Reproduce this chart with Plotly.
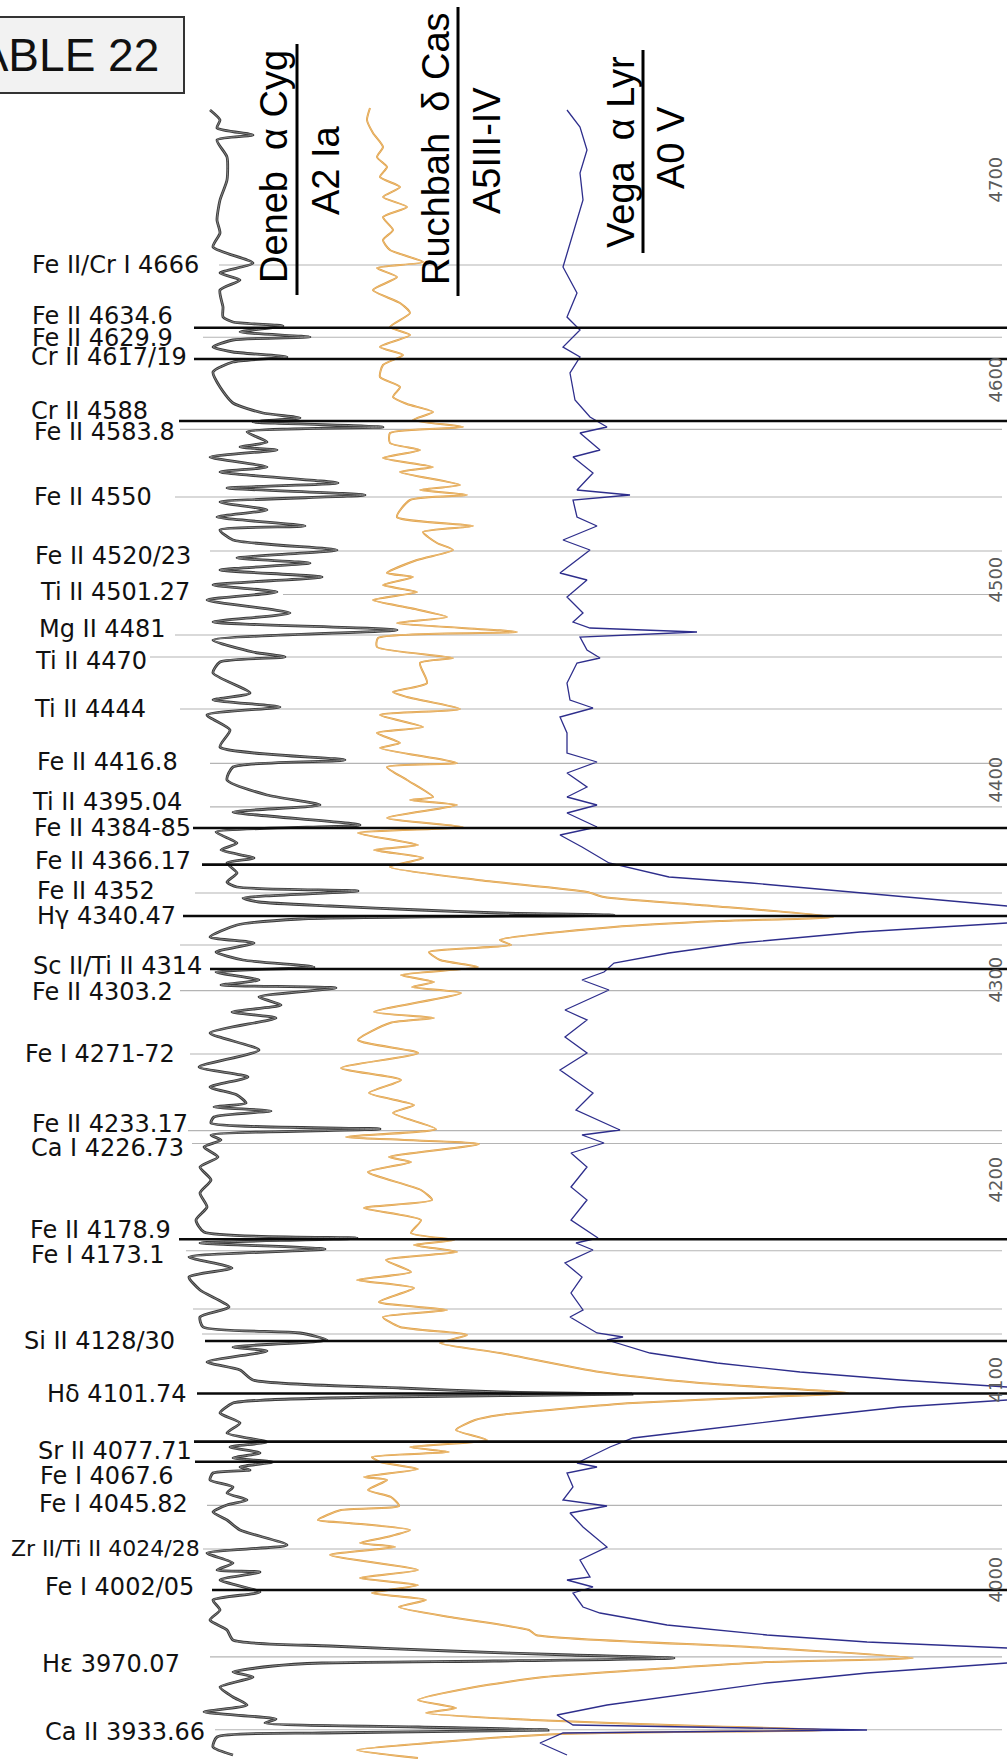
import plotly.graph_objects as go

# ---------------------------------------------------------------------------
# Spectra: (wavelength [Å], plotted intensity) — absorption increases to the right
# ---------------------------------------------------------------------------
deneb = [
    (4743.5, 210), (4738.5, 220), (4734.5, 217), (4731, 253), (4728.5, 217), (4720, 227),
    (4708.5, 227), (4698.5, 220), (4688.5, 217), (4682, 220), (4675, 213), (4667, 253),
    (4662, 220), (4658.5, 240), (4653.5, 220), (4645, 223), (4640, 223), (4637.5, 233),
    (4635.5, 283), (4632.5, 240), (4630, 310), (4628.5, 233), (4625, 213), (4622.5, 233),
    (4620, 287), (4617.5, 233), (4612.5, 213), (4605, 220), (4597, 233), (4592, 263),
    (4589.5, 300), (4587.5, 253), (4585, 383), (4582.5, 247), (4577.5, 267), (4575, 240),
    (4573.5, 277), (4570, 210), (4565, 267), (4562.5, 220), (4557, 338), (4554.5, 227),
    (4551, 365), (4547.5, 220), (4543.5, 267), (4540, 217), (4535.5, 305), (4533.5, 220),
    (4528.5, 233), (4523.5, 337), (4519.5, 237), (4517, 310), (4513.5, 220), (4510, 322),
    (4506, 213), (4502.5, 277), (4498.5, 207), (4492, 290), (4487.5, 213), (4483.5, 397),
    (4478.5, 213), (4472.5, 253), (4470, 285), (4467.5, 220), (4462, 213), (4452, 250),
    (4448.5, 213), (4445, 280), (4441, 207), (4433.5, 230), (4425, 220), (4418.5, 345),
    (4415, 233), (4408.5, 227), (4401, 267), (4396, 320), (4392.5, 233), (4386, 360),
    (4382.5, 216), (4377, 237), (4373.5, 221), (4369.5, 254), (4367, 227), (4362, 237),
    (4357.5, 227), (4355, 237), (4353, 358), (4349.5, 243), (4347.5, 259), (4345.5, 330),
    (4343.5, 420), (4342, 500), (4341, 614), (4339, 300), (4336, 237), (4330, 210),
    (4327, 254), (4322.5, 216), (4318.5, 243), (4315, 314), (4312.5, 216), (4308.5, 259),
    (4306, 221), (4304.5, 336), (4300, 259), (4296, 281), (4292.5, 232), (4289.5, 276),
    (4282, 210), (4273.5, 259), (4265, 199), (4260, 248), (4255, 210), (4251, 237),
    (4247, 246), (4245, 214), (4243, 271), (4240, 214), (4237, 211), (4234, 380),
    (4231, 211), (4228.5, 221), (4225, 204), (4220, 218), (4215, 200), (4208.5, 211),
    (4202, 200), (4195, 207), (4188.5, 196), (4182.5, 204), (4179.5, 357), (4177, 200),
    (4174, 325), (4170, 189), (4164.5, 232), (4160, 189), (4153.5, 200), (4145, 229),
    (4140, 200), (4135, 203), (4132, 300), (4128.5, 327), (4125, 233), (4123, 267),
    (4117.5, 207), (4113.5, 240), (4108.5, 253), (4104.5, 400), (4102.5, 500), (4101.5, 632),
    (4100, 380), (4098.5, 265), (4097, 233), (4092, 220), (4087, 240), (4082, 227),
    (4077.5, 267), (4075, 230), (4072, 260), (4069.5, 233), (4067.5, 273), (4065, 240),
    (4063.5, 250), (4062, 213), (4058.5, 210), (4055, 233), (4052, 227), (4048.5, 247),
    (4046, 227), (4042.5, 213), (4038.5, 227), (4033.5, 240), (4026, 287), (4022, 207),
    (4017, 233), (4013.5, 217), (4012.5, 260), (4008.5, 220), (4002.5, 260), (3998.5, 213),
    (3993.5, 220), (3988.5, 210), (3983.5, 227), (3978.5, 233), (3975.5, 330), (3973, 450),
    (3971, 571), (3969.5, 674), (3968, 494), (3967, 322), (3965.5, 273), (3962.5, 233),
    (3960, 253), (3955, 220), (3950, 233), (3946, 247), (3942.5, 204), (3939, 276),
    (3937, 265), (3935, 418), (3933.5, 548), (3932, 322), (3930, 217), (3925, 213),
    (3921, 233),
]

ruchbah = [
    (4744.5, 370), (4738.5, 367), (4732, 373), (4725, 383), (4720, 377), (4715, 387),
    (4710, 380), (4705, 400), (4700, 383), (4695, 407), (4690, 383), (4683.5, 393),
    (4678.5, 383), (4673.5, 390), (4667.5, 423), (4664.5, 377), (4660, 397), (4653.5, 373),
    (4647, 400), (4642, 410), (4635, 390), (4631, 410), (4625, 380), (4621, 403),
    (4616, 383), (4610, 380), (4605, 400), (4600, 393), (4596.5, 407), (4592.5, 433),
    (4588.5, 413), (4585, 463), (4582, 390), (4577, 390), (4573.5, 420), (4569.5, 383),
    (4565, 433), (4562.5, 400), (4556, 460), (4553.5, 420), (4551, 467), (4548.5, 410),
    (4540, 397), (4535.5, 473), (4532.5, 423), (4527, 437), (4523.5, 453), (4518.5, 417),
    (4512, 387), (4510, 413), (4506, 383), (4502.5, 417), (4498.5, 373), (4494.5, 410),
    (4490, 447), (4487, 397), (4482.5, 517), (4479.5, 378), (4475, 377), (4469.5, 453),
    (4467, 420), (4457, 427), (4452.5, 393), (4450, 407), (4444, 460), (4441, 380),
    (4435, 423), (4432, 377), (4427, 400), (4424.5, 380), (4417, 457), (4415, 387),
    (4408.5, 407), (4400, 433), (4398.5, 410), (4396, 457), (4389.5, 387), (4385, 463),
    (4382, 358), (4376, 418), (4373.5, 374), (4369.5, 423), (4365, 390), (4358.5, 478),
    (4352.5, 587), (4350, 604), (4346, 700), (4340, 833), (4338, 720), (4335, 614),
    (4328.5, 500), (4326, 511), (4322.5, 429), (4318.5, 440), (4315, 478), (4311, 401),
    (4307.5, 434), (4305, 412), (4302, 461), (4292.5, 374), (4289.5, 434), (4287, 390),
    (4278.5, 358), (4272, 418), (4264.5, 341), (4258.5, 401), (4252, 369), (4246, 414),
    (4242, 393), (4234, 436), (4230, 346), (4226.5, 479), (4220, 389), (4217.5, 411),
    (4212.5, 368), (4203.5, 421), (4198.5, 432), (4194.5, 364), (4188.5, 421), (4182, 411),
    (4178.5, 454), (4176, 414), (4172.5, 457), (4168.5, 386), (4162.5, 411), (4158.5, 357),
    (4154.5, 414), (4147.5, 379), (4143.5, 447), (4140, 383), (4135, 400), (4131, 467),
    (4127, 440), (4122, 500), (4112.5, 600), (4107, 700), (4102, 848), (4100, 767),
    (4097, 633), (4094.5, 571), (4091, 500), (4088.5, 475), (4083.5, 456), (4078.5, 487),
    (4075, 410), (4072.5, 449), (4070, 372), (4067.5, 380), (4064, 418), (4060, 364),
    (4058.5, 387), (4053.5, 368), (4050, 391), (4045.5, 399), (4043.5, 341), (4038.5, 318),
    (4037, 349), (4033.5, 410), (4030, 387), (4027, 360), (4025, 395), (4021, 330),
    (4013.5, 418), (4009.5, 360), (4006, 418), (4002, 372), (3998.5, 426), (3995, 399),
    (3989.5, 456), (3983.5, 529), (3981, 536), (3975, 750), (3969.5, 913), (3967.5, 767),
    (3963.5, 640), (3960, 544), (3955, 475), (3948.5, 418), (3944.5, 456), (3942, 426),
    (3938.5, 533), (3935.5, 700), (3933.5, 830), (3931.5, 560), (3927.5, 440), (3923.5, 357),
    (3919.5, 418),
]

vega = [
    (4743.5, 567), (4735, 580), (4723.5, 587), (4712, 580), (4698.5, 583), (4682, 573),
    (4665, 563), (4652, 577), (4640, 567), (4633.5, 580), (4625, 563), (4620, 580),
    (4612, 570), (4598.5, 575), (4590, 590), (4585, 607), (4582, 580), (4573.5, 600),
    (4570, 573), (4562, 593), (4553.5, 577), (4551, 630), (4548.5, 573), (4540, 577),
    (4535.5, 597), (4528.5, 563), (4523.5, 590), (4512, 560), (4508.5, 587), (4500, 567),
    (4492, 583), (4487.5, 573), (4484.5, 590), (4482.5, 697), (4480, 580), (4473.5, 587),
    (4469.5, 600), (4467, 577), (4457, 567), (4448.5, 570), (4444.5, 593), (4440, 560),
    (4432, 567), (4422, 567), (4417.5, 597), (4412, 567), (4405, 587), (4400, 567),
    (4396, 597), (4392, 567), (4385, 597), (4381, 560), (4375, 582), (4367, 609),
    (4360, 669), (4357, 751), (4352, 860), (4345.5, 1007), (4341, 1150), (4337, 1007),
    (4332.5, 860), (4327, 740), (4322, 669), (4317, 614), (4312.5, 604), (4308.5, 582),
    (4303.5, 609), (4293.5, 565), (4288.5, 587), (4280, 565), (4272, 587), (4263.5, 560),
    (4252, 593), (4243.5, 576), (4233.5, 620), (4231, 582), (4227, 604), (4222, 571),
    (4215, 587), (4205, 571), (4198.5, 587), (4188.5, 571), (4179.5, 598), (4177, 576),
    (4173.5, 593), (4167, 565), (4160, 582), (4152, 571), (4143.5, 583), (4140, 570),
    (4132, 597), (4130, 623), (4128.5, 607), (4122, 650), (4117, 717), (4112.5, 800),
    (4108.5, 900), (4105, 1007), (4102, 1150), (4098.5, 1007), (4095, 900), (4089.5, 800),
    (4083.5, 700), (4079.5, 633), (4075, 610), (4070, 590), (4067, 577), (4065, 597),
    (4062, 567), (4055, 573), (4048.5, 563), (4045.5, 607), (4042, 570), (4035, 583),
    (4025, 607), (4018.5, 580), (4010, 590), (4008.5, 567), (4005, 593), (4002, 573),
    (3995, 583), (3992, 600), (3986, 667), (3981, 767), (3977.5, 867), (3974.5, 1007),
    (3971, 1150), (3967, 1007), (3962, 867), (3957, 767), (3950, 667), (3946, 607),
    (3941, 557), (3936, 573), (3933.5, 867), (3932, 563), (3927, 540), (3921, 567),
]

# ---------------------------------------------------------------------------
# Line identifications
# ---------------------------------------------------------------------------
line_labels = [
    "Fe II/Cr I 4666", "Fe II 4634.6", "Fe II 4629.9", "Cr II 4617/19", "Cr II 4588",
    "Fe II 4583.8", "Fe II 4550", "Fe II 4520/23", "Ti II 4501.27", "Mg II 4481",
    "Ti II 4470", "Ti II 4444", "Fe II 4416.8", "Ti II 4395.04", "Fe II 4384-85",
    "Fe II 4366.17", "Fe II 4352", "Hγ 4340.47", "", "Sc II/Ti II 4314",
    "Fe II 4303.2", "Fe I 4271-72", "Fe II 4233.17", "Ca I 4226.73", "Fe II 4178.9",
    "Fe I 4173.1", "", "", "Si II 4128/30", "Hδ 4101.74",
    "Sr II 4077.71", "Fe I 4067.6", "Fe I 4045.82", "Zr II/Ti II 4024/28", "Fe I 4002/05",
    "Hε 3970.07", "Ca II 3933.66",
]
line_wavelengths = [
    4666, 4634.6, 4629.9, 4619, 4588,
    4583.8, 4550, 4523, 4501.27, 4481,
    4470, 4444, 4416.8, 4395.04, 4384.5,
    4366.17, 4352, 4340.47, 4326, 4314,
    4303.2, 4271.5, 4233.17, 4226.73, 4178.9,
    4173.1, 4144, 4131.5, 4128, 4101.74,
    4077.71, 4067.6, 4045.82, 4024, 4003.5,
    3970.07, 3933.66,
]

axis_ticks = [4000, 4100, 4200, 4300, 4400, 4500, 4600, 4700]

star_names = ["Deneb  α Cyg", "Ruchbah  δ Cas", "Vega  α Lyr"]
star_types = ["A2 Ia", "A5III-IV", "A0 V"]

# ---------------------------------------------------------------------------
# Layout / style
# ---------------------------------------------------------------------------
W, H = 1007, 1759
WL_TOP, WL_BOTTOM = 4798.5, 3919.0          # wavelength at top / bottom edge
PX_PER_A = H / (WL_TOP - WL_BOTTOM)


def wl_at(py):
    """Wavelength located at a given pixel row."""
    return WL_TOP - py / PX_PER_A


# heavy black rules vs thin grey rules, where each rule starts, label placement
strong_rule = [
    False, True, False, True, True,
    False, False, False, False, False,
    False, False, False, False, True,
    True, False, True, False, True,
    False, False, False, False, True,
    False, False, False, True, True,
    True, True, False, False, True,
    False, False,
]
rule_start = [
    219, 194, 203, 194, 179,
    180, 175, 210, 283, 175,
    150, 180, 210, 210, 193,
    202, 195, 183, 180, 210,
    180, 190, 188, 192, 179,
    186, 193, 202, 205, 197,
    194, 195, 207, 203, 212,
    210, 215,
]
label_left = [
    30, 30, 30, 29, 29,
    32, 32, 33, 38, 37,
    33, 32, 35, 30, 32,
    33, 35, 35, 0, 31,
    30, 23, 30, 29, 28,
    29, 0, 0, 22, 45,
    36, 38, 37, 9, 43,
    40, 43,
]
label_shift = [
    0, 12, -1, 2, 10,
    -3, 0, -5, 2, 6,
    -4, 0, 1, 5, 0,
    4, 2, 0, 0, 3,
    -1, 0, 7, -4, 9,
    -4, 0, 0, 0, 0,
    -9, -14, 1, 1, 3,
    -7, -2,
]
label_size = [24] * len(line_labels)
label_size[line_labels.index("Zr II/Ti II 4024/28")] = 22

LABEL_FONT = "DejaVu Sans"
TITLE_FONT = "Liberation Sans"

fig = go.Figure()

# each spectrum: line shape and list of (colour, width) strokes, drawn in order
series = [
    (deneb, "spline", [("#3a3a3a", 2.8), ("#8c8c8c", 0.9)]),
    (ruchbah, "spline", [("#DE9E45", 2.0), ("#F2C98A", 0.7)]),
    (vega, "linear", [("#2E2E8C", 1.3)]),
]
for data, shape, strokes in series:
    for color, width in strokes:
        line = dict(color=color, width=width, shape=shape)
        if shape == "spline":
            line["smoothing"] = 0.6
        fig.add_trace(go.Scatter(
            x=[p[1] for p in data], y=[p[0] for p in data],
            mode="lines", line=line, hoverinfo="skip", showlegend=False,
        ))

shapes = []
annotations = []
for lab, wl, strong, x0, lx, dy, fs in zip(line_labels, line_wavelengths, strong_rule,
                                           rule_start, label_left, label_shift, label_size):
    shapes.append(dict(
        type="line", xref="x", yref="y", x0=x0, x1=1007 if strong else 1002, y0=wl, y1=wl,
        line=dict(color="#0a0a0a" if strong else "#b4b4b4", width=2.6 if strong else 1.1),
        layer="above" if strong else "below",
    ))
    if lab:
        annotations.append(dict(
            xref="x", yref="y", x=lx, y=wl, yshift=dy, text=lab, showarrow=False,
            xanchor="left", yanchor="middle",
            font=dict(family=LABEL_FONT, size=fs, color="#111111"),
        ))

# wavelength scale on the right edge
for t in axis_ticks:
    annotations.append(dict(
        xref="x", yref="y", x=994.5, y=t, yshift=17, text=str(t), showarrow=False,
        textangle=-90, xanchor="center", yanchor="middle",
        font=dict(family=LABEL_FONT, size=18, color="#5a5a5a"),
    ))

# star headings: name (underlined) and spectral type, written upward
heading_name_pos = [(274, 167), (436, 149), (621, 152)]
heading_type_pos = [(326, 170), (487, 151), (671, 148)]
underline = [(297, 44, 295), (458, 7, 296), (643, 50, 253)]
for name, sptype, (nx, ny), (tx, ty), (ux, uy0, uy1) in zip(
        star_names, star_types, heading_name_pos, heading_type_pos, underline):
    annotations.append(dict(
        xref="x", yref="y", x=nx, y=wl_at(ny), text=name, showarrow=False,
        textangle=-90, xanchor="center", yanchor="middle",
        font=dict(family=TITLE_FONT, size=38, color="#000000"),
    ))
    annotations.append(dict(
        xref="x", yref="y", x=tx, y=wl_at(ty), text=sptype, showarrow=False,
        textangle=-90, xanchor="center", yanchor="middle",
        font=dict(family=TITLE_FONT, size=38, color="#000000"),
    ))
    shapes.append(dict(
        type="line", xref="x", yref="y", x0=ux, x1=ux, y0=wl_at(uy0), y1=wl_at(uy1),
        line=dict(color="#000000", width=3), layer="above",
    ))

# plate caption box
shapes.append(dict(
    type="rect", xref="x", yref="y", x0=-20, x1=184, y0=wl_at(17), y1=wl_at(93),
    fillcolor="#f2f2f2", line=dict(color="#333333", width=2), layer="above",
))
annotations.append(dict(
    xref="x", yref="y", x=161, y=wl_at(55), text="TABLE 22", showarrow=False,
    xanchor="right", yanchor="middle",
    font=dict(family=TITLE_FONT, size=46, color="#111111"),
))

fig.update_layout(
    width=W, height=H, autosize=False,
    margin=dict(l=0, r=0, t=0, b=0, pad=0),
    paper_bgcolor="white", plot_bgcolor="white",
    xaxis=dict(range=[0, W], visible=False, fixedrange=True),
    yaxis=dict(range=[WL_BOTTOM, WL_TOP], visible=False, fixedrange=True),
    shapes=shapes, annotations=annotations,
)

fig.write_html("out.html")
